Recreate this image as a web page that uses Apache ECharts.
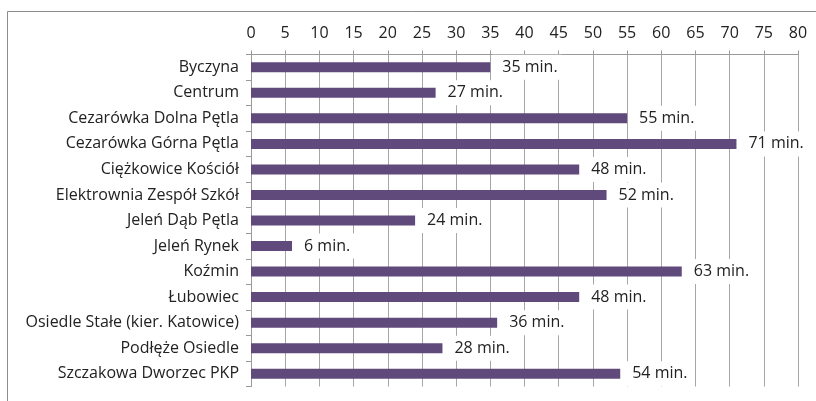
<!DOCTYPE html>
<html>
<head>
<meta charset="utf-8">
<script src="https://cdn.jsdelivr.net/npm/echarts@6/dist/echarts.min.js"></script>
<style>
  html, body { margin: 0; padding: 0; background: #fff; }
  #main { width: 816px; height: 401px; }
</style>
</head>
<body>
<div id="main"></div>
<script>
// przystanki
var stops = ['Byczyna', 'Centrum', 'Cezarówka Dolna Pętla', 'Cezarówka Górna Pętla',
  'Ciężkowice Kościół', 'Elektrownia Zespół Szkół', 'Jeleń Dąb Pętla', 'Jeleń Rynek',
  'Koźmin', 'Łubowiec', 'Osiedle Stałe (kier. Katowice)', 'Podłęże Osiedle', 'Szczakowa Dworzec PKP'];
// czas dojazdu w minutach
var minutes = [35, 27, 55, 71, 48, 52, 24, 6, 63, 48, 36, 28, 54];

var chart = echarts.init(document.getElementById('main'));
var font = '"Open Sans", sans-serif';

var option = {
  animation: false,
  graphic: [{
    type: 'rect',
    left: 5, top: 9,
    shape: { width: 900, height: 500 },
    style: { fill: 'none', stroke: '#8c8c8c', lineWidth: 1 }
  }],
  grid: { left: 251, right: 18, top: 54.5, height: 332 },
  xAxis: {
    type: 'value',
    position: 'top',
    min: 0, max: 80, interval: 5,
    axisLine: { show: true, lineStyle: { color: '#999' } },
    axisTick: { show: true, length: 4, lineStyle: { color: '#999' } },
    axisLabel: { color: '#222', fontSize: 16, fontFamily: font, margin: 13 },
    splitLine: { show: true, lineStyle: { color: '#a6a6a6' } }
  },
  yAxis: {
    type: 'category',
    inverse: true,
    data: stops,
    axisLine: { show: true, lineStyle: { color: '#999' } },
    axisTick: { show: true, length: 5, lineStyle: { color: '#999' } },
    axisLabel: { color: '#222', fontSize: 16, fontFamily: font, margin: 12 }
  },
  series: [{
    type: 'bar',
    data: minutes,
    barWidth: 10,
    itemStyle: { color: '#604a7b' },
    label: {
      show: true,
      position: 'right',
      distance: 2,
      formatter: '{c} min.',
      color: '#222',
      fontSize: 16,
      fontFamily: font,
      backgroundColor: '#fff',
      padding: [7, 4, 2, 10]
    }
  }]
};
chart.setOption(option);
</script>
</body>
</html>
